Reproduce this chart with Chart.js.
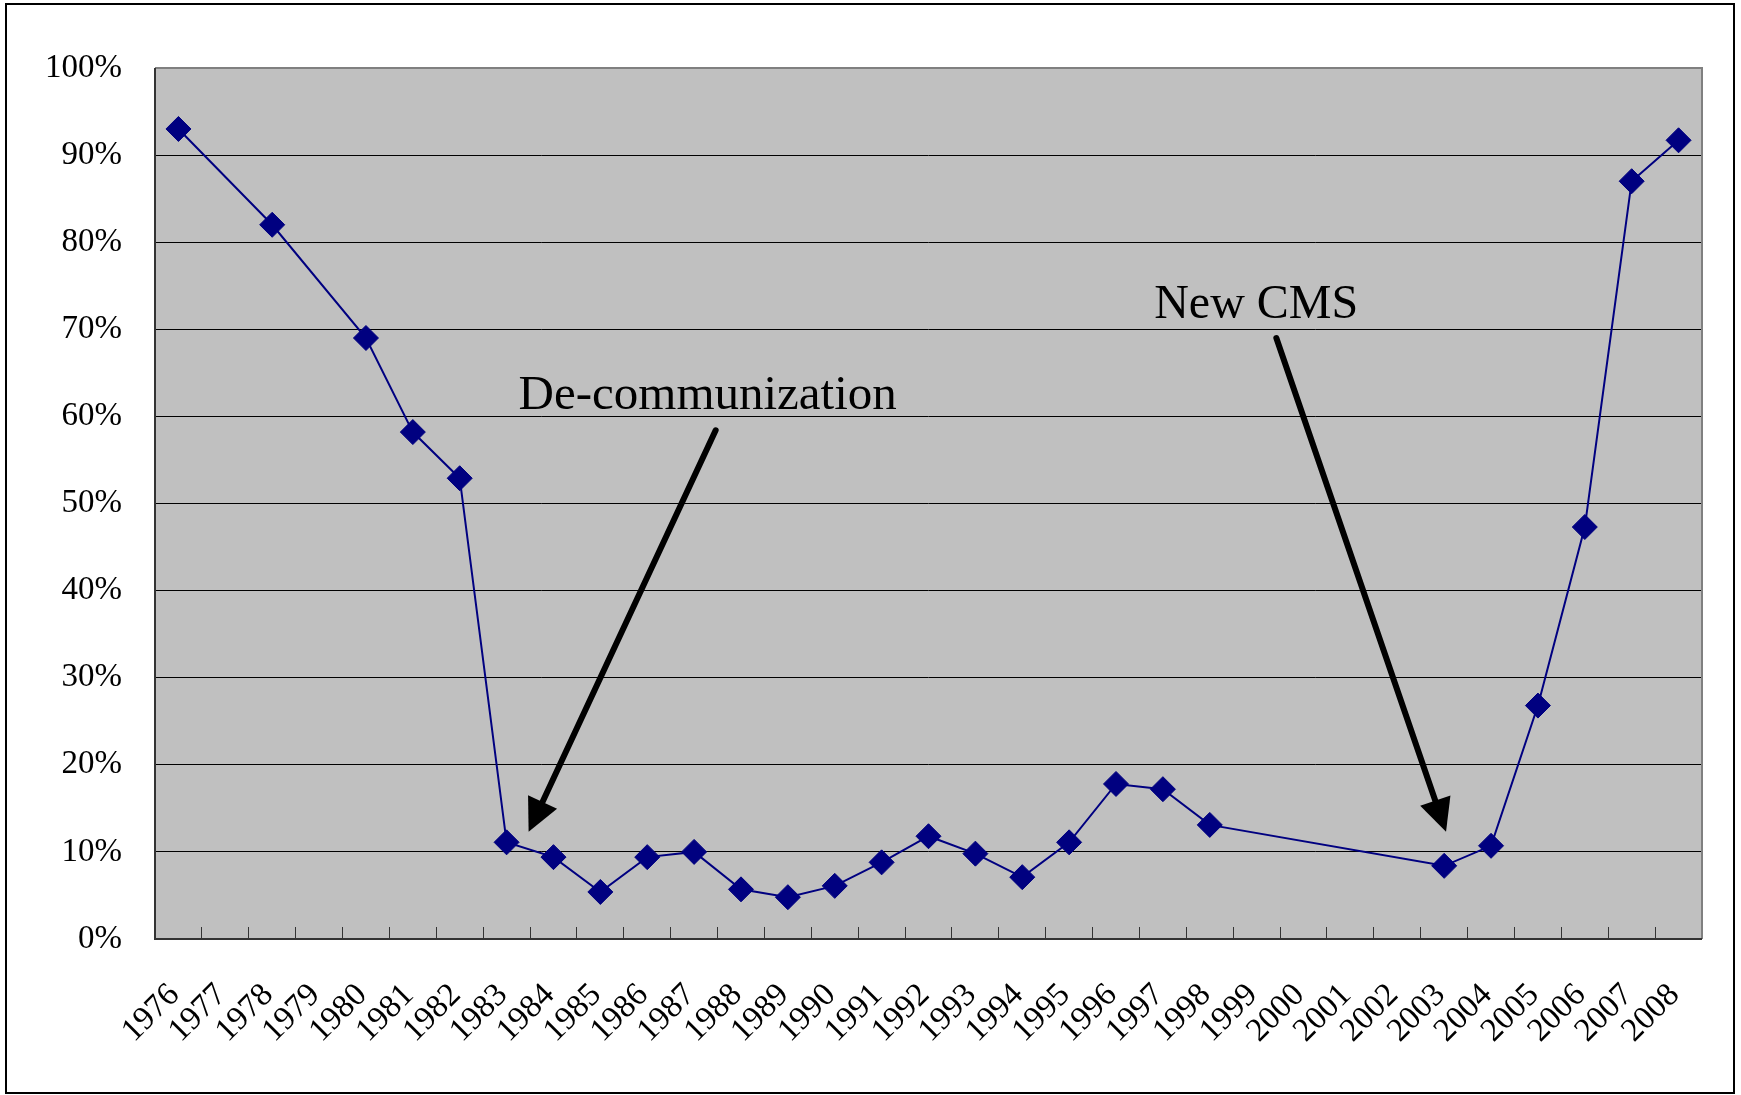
<!DOCTYPE html>
<html>
<head>
<meta charset="utf-8">
<script src="https://cdn.jsdelivr.net/npm/chart.js@4/dist/chart.umd.min.js"></script>
<style>
  html, body { margin: 0; padding: 0; background: #ffffff; }
  canvas { display: block; }
</style>
</head>
<body>
<canvas id="c" width="1741" height="1095"></canvas>
<script>
// ---- data ----
const years = ['1976','1977','1978','1979','1980','1981','1982','1983','1984','1985','1986',
  '1987','1988','1989','1990','1991','1992','1993','1994','1995','1996','1997','1998',
  '1999','2000','2001','2002','2003','2004','2005','2006','2007','2008'];
const shares = [0.930, null, 0.820, null, 0.690, 0.582, 0.529, 0.111, 0.094, 0.054, 0.094,
  0.100, 0.057, 0.048, 0.061, 0.088, 0.118, 0.098, 0.071, 0.111, 0.178, 0.172, 0.131,
  null, null, null, null, 0.084, 0.107, 0.268, 0.473, 0.870, 0.917];
const yTickLabels = ['0%','10%','20%','30%','40%','50%','60%','70%','80%','90%','100%'];
const noteTexts = ['De-communization', 'New CMS'];

// annotation anchors in data space (category index, value)
const notes = [
  { text: noteTexts[0], size: 49, tx: 11.29, ty: 0.608, from: [11.46, 0.584], to: [7.47, 0.123] },
  { text: noteTexts[1], size: 48, tx: 22.99, ty: 0.713, from: [23.42, 0.690], to: [27.04, 0.123] }
];

const SERIF = '"Liberation Serif", "Times New Roman", serif';

function drawArrow(ctx, x1, y1, x2, y2) {
  const headLen = 33, headW = 32, shaftW = 6;
  const dx = x2 - x1, dy = y2 - y1;
  const len = Math.hypot(dx, dy);
  const ux = dx / len, uy = dy / len;
  const bx = x2 - ux * headLen, by = y2 - uy * headLen;
  ctx.save();
  ctx.strokeStyle = '#000';
  ctx.fillStyle = '#000';
  ctx.lineWidth = shaftW;
  ctx.lineCap = 'round';
  ctx.beginPath();
  ctx.moveTo(x1, y1);
  ctx.lineTo(bx + ux * 4, by + uy * 4);
  ctx.stroke();
  ctx.beginPath();
  ctx.moveTo(x2, y2);
  ctx.lineTo(bx - uy * headW / 2, by + ux * headW / 2);
  ctx.lineTo(bx + uy * headW / 2, by - ux * headW / 2);
  ctx.closePath();
  ctx.fill();
  ctx.restore();
}

const decor = {
  id: 'decor',
  beforeDraw(chart) {
    const ctx = chart.ctx, a = chart.chartArea;
    ctx.save();
    ctx.fillStyle = '#ffffff';
    ctx.fillRect(0, 0, chart.width, chart.height);
    ctx.fillStyle = '#c0c0c0';
    ctx.fillRect(a.left, a.top, a.right - a.left, a.bottom - a.top);
    ctx.restore();
  },
  afterDraw(chart) {
    const ctx = chart.ctx, a = chart.chartArea;
    const xs = chart.scales.x, ys = chart.scales.y;
    ctx.save();
    // plot frame
    ctx.strokeStyle = '#808080';
    ctx.lineWidth = 2;
    ctx.beginPath();
    ctx.moveTo(a.left, a.top); ctx.lineTo(a.right, a.top); ctx.lineTo(a.right, a.bottom);
    ctx.stroke();
    ctx.strokeStyle = '#333333';
    ctx.beginPath();
    ctx.moveTo(a.left, a.top); ctx.lineTo(a.left, a.bottom); ctx.lineTo(a.right, a.bottom);
    ctx.stroke();
    // outer frame
    ctx.strokeStyle = '#000';
    ctx.lineWidth = 2;
    ctx.strokeRect(6, 4, 1728, 1089);
    // annotations
    ctx.fillStyle = '#000';
    ctx.textAlign = 'center';
    ctx.textBaseline = 'alphabetic';
    notes.forEach(n => {
      ctx.font = n.size + 'px ' + SERIF;
      ctx.fillText(n.text, xs.getPixelForValue(n.tx), ys.getPixelForValue(n.ty));
      drawArrow(ctx,
        xs.getPixelForValue(n.from[0]), ys.getPixelForValue(n.from[1]),
        xs.getPixelForValue(n.to[0]), ys.getPixelForValue(n.to[1]));
    });
    ctx.restore();
  }
};

new Chart(document.getElementById('c'), {
  type: 'line',
  data: {
    labels: years,
    datasets: [{
      data: shares,
      borderColor: '#000080',
      borderWidth: 2,
      tension: 0,
      spanGaps: true,
      pointStyle: 'rectRot',
      pointRadius: 12.5,
      pointHoverRadius: 12.5,
      pointBackgroundColor: '#000080',
      pointBorderColor: '#000080',
      pointBorderWidth: 1,
      clip: false
    }]
  },
  options: {
    responsive: false,
    animation: false,
    events: [],
    layout: { padding: { left: 0, right: 39, top: 68, bottom: 0 } },
    plugins: { legend: { display: false }, tooltip: { enabled: false } },
    scales: {
      x: {
        offset: true,
        grid: {
          display: true,
          offset: true,
          drawOnChartArea: false,
          drawTicks: true,
          tickLength: -12,
          color: '#333333',
          lineWidth: 1
        },
        border: { display: false },
        ticks: {
          autoSkip: false,
          minRotation: 45,
          maxRotation: 45,
          padding: 49,
          labelOffset: -4,
          color: '#000',
          font: { family: SERIF, size: 33 }
        },
        afterFit(s) { s.height = 156; s.paddingLeft = 0; s.paddingRight = 0; }
      },
      y: {
        min: 0,
        max: 1,
        ticks: {
          stepSize: 0.1,
          padding: 33,
          color: '#000',
          font: { family: SERIF, size: 33 },
          callback: (v, i) => yTickLabels[i]
        },
        grid: { color: '#000', lineWidth: 1, drawTicks: false },
        border: { display: false },
        afterFit(s) { s.width = 155; }
      }
    }
  },
  plugins: [decor]
});
</script>
</body>
</html>
